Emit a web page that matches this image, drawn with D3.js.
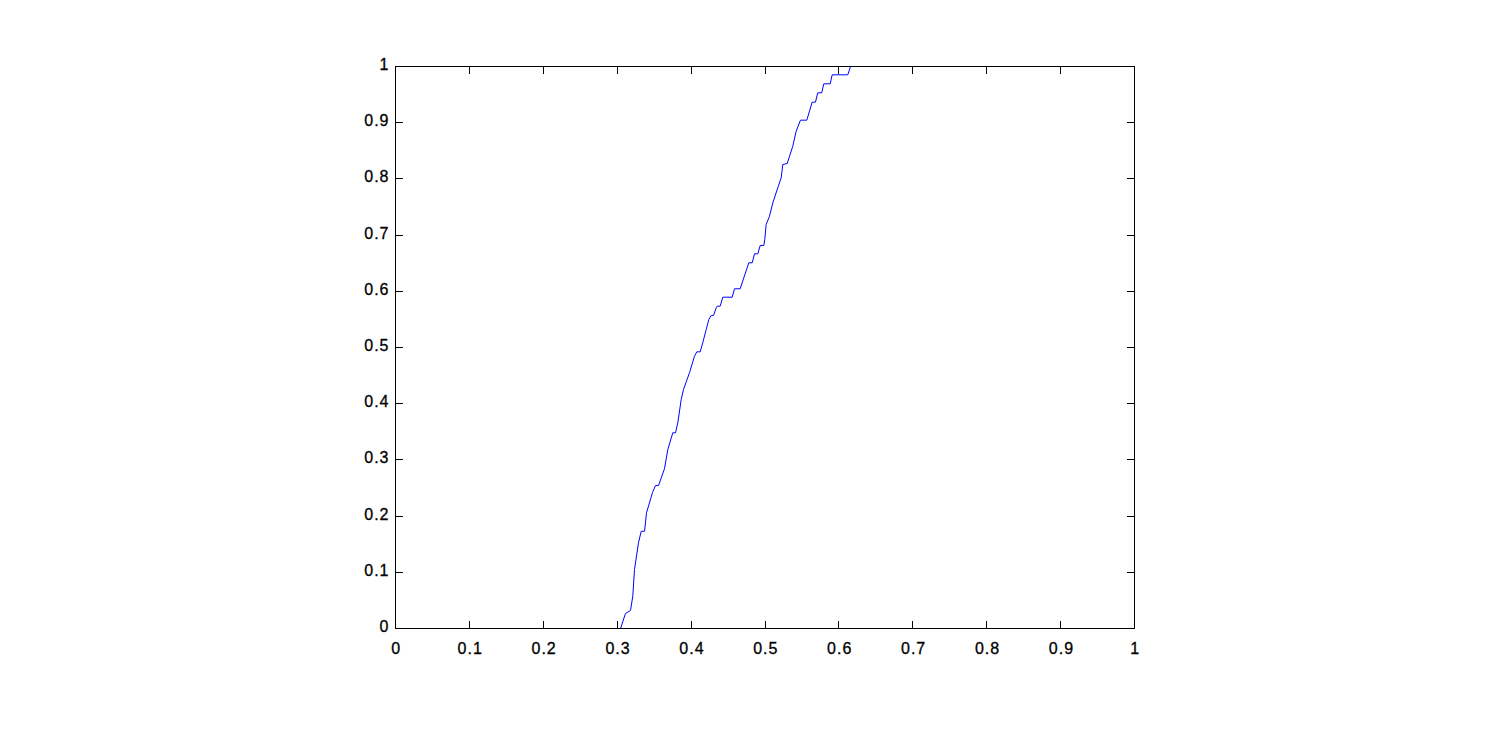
<!DOCTYPE html>
<html>
<head>
<meta charset="utf-8">
<script src="https://cdn.jsdelivr.net/npm/d3@7"></script>
<style>
  body { margin: 0; background: #fff; }
</style>
</head>
<body>
<div id="chart"></div>
<script>
// curve (x, cumulative fraction)
var xs = [0.3045, 0.3112, 0.318, 0.3211, 0.3234, 0.3288, 0.3325, 0.337, 0.3397, 0.3478, 0.3518, 0.3559,
  0.364, 0.3685, 0.3752, 0.3789, 0.382, 0.3866, 0.3897, 0.3978, 0.4046, 0.4077, 0.4123, 0.4158, 0.4204,
  0.424, 0.4272, 0.4303, 0.434, 0.4353, 0.4394, 0.4429, 0.4556, 0.4587, 0.4664, 0.4781, 0.4827, 0.4858,
  0.4903, 0.4935, 0.4984, 0.4997, 0.5016, 0.5061, 0.5106, 0.5173, 0.5219, 0.5241, 0.53, 0.5332, 0.5376,
  0.5422, 0.548, 0.5566, 0.5602, 0.5638, 0.5683, 0.5714, 0.5768, 0.5795, 0.5882, 0.5909, 0.612, 0.6157];
var ys = [0, 0.0267, 0.032, 0.0575, 0.105, 0.1525, 0.173, 0.173, 0.206, 0.242, 0.2544, 0.2544,
  0.2842, 0.3185, 0.3482, 0.3482, 0.366, 0.4075, 0.4253, 0.455, 0.4845, 0.4923, 0.4923, 0.5084, 0.532,
  0.5498, 0.557, 0.557, 0.5706, 0.5735, 0.5735, 0.5895, 0.5895, 0.6045, 0.6045, 0.6507, 0.6507, 0.6667,
  0.6667, 0.6815, 0.6815, 0.6922, 0.7189, 0.7336, 0.7575, 0.7842, 0.802, 0.8256, 0.8274, 0.8404, 0.8582,
  0.8849, 0.9045, 0.9045, 0.9205, 0.9365, 0.9365, 0.9532, 0.9532, 0.9692, 0.9692, 0.9852, 0.9852, 1.0];
var xTicks = [0, 0.1, 0.2, 0.3, 0.4, 0.5, 0.6, 0.7, 0.8, 0.9, 1];
var yTicks = [0, 0.1, 0.2, 0.3, 0.4, 0.5, 0.6, 0.7, 0.8, 0.9, 1];

var W = 1498, H = 732;
var box = {l: 395.5, r: 1134.5, t: 66.5, b: 628.5};

var svg = d3.select("#chart").append("svg")
    .attr("width", W)
    .attr("height", H);

var x = d3.scaleLinear().domain([0, 1]).range([box.l, box.r]);
var y = d3.scaleLinear().domain([0, 1]).range([box.b, box.t]);

var fmt = function(d) { return String(+d.toFixed(1)); };

// curve
var pts = xs.map(function(v, i) { return [v, ys[i]]; });
svg.append("path")
    .datum(pts)
    .attr("fill", "none")
    .attr("stroke", "#0000ff")
    .attr("stroke-width", 1)
    .attr("d", d3.line().x(function(d) { return x(d[0]); }).y(function(d) { return y(d[1]); }));

// axes, ticks pointing inward
var gb = svg.append("g").attr("transform", "translate(0," + box.b + ")")
    .call(d3.axisBottom(x).tickValues(xTicks).tickFormat(fmt).tickSizeInner(-7.5).tickSizeOuter(0).tickPadding(14).offset(0));
var gt = svg.append("g").attr("transform", "translate(0," + box.t + ")")
    .call(d3.axisTop(x).tickValues(xTicks).tickFormat("").tickSizeInner(-7.5).tickSizeOuter(0).offset(0));
var gl = svg.append("g").attr("transform", "translate(" + box.l + ",0)")
    .call(d3.axisLeft(y).tickValues(yTicks).tickFormat(fmt).tickSizeInner(-7.5).tickSizeOuter(0).tickPadding(6).offset(0));
var gr = svg.append("g").attr("transform", "translate(" + box.r + ",0)")
    .call(d3.axisRight(y).tickValues(yTicks).tickFormat("").tickSizeInner(-7.5).tickSizeOuter(0).offset(0));

[gb, gt, gl, gr].forEach(function(g) {
  g.select(".domain").remove();
  g.attr("font-family", "'Liberation Sans', Arial, sans-serif").attr("font-size", 16);
  g.selectAll(".tick line").attr("shape-rendering", "crispEdges");
  g.selectAll(".tick text").style("letter-spacing", "1px")
    .attr("fill", "#000").attr("stroke", "#000").attr("stroke-width", 0.3);
});
gl.selectAll("text").attr("dy", "0.22em");
gb.selectAll("text").attr("dx", "0.05em");

// box
svg.append("rect")
    .attr("x", box.l).attr("y", box.t)
    .attr("width", box.r - box.l).attr("height", box.b - box.t)
    .attr("fill", "none").attr("stroke", "#000").attr("stroke-width", 1)
    .attr("shape-rendering", "crispEdges");
</script>
</body>
</html>
